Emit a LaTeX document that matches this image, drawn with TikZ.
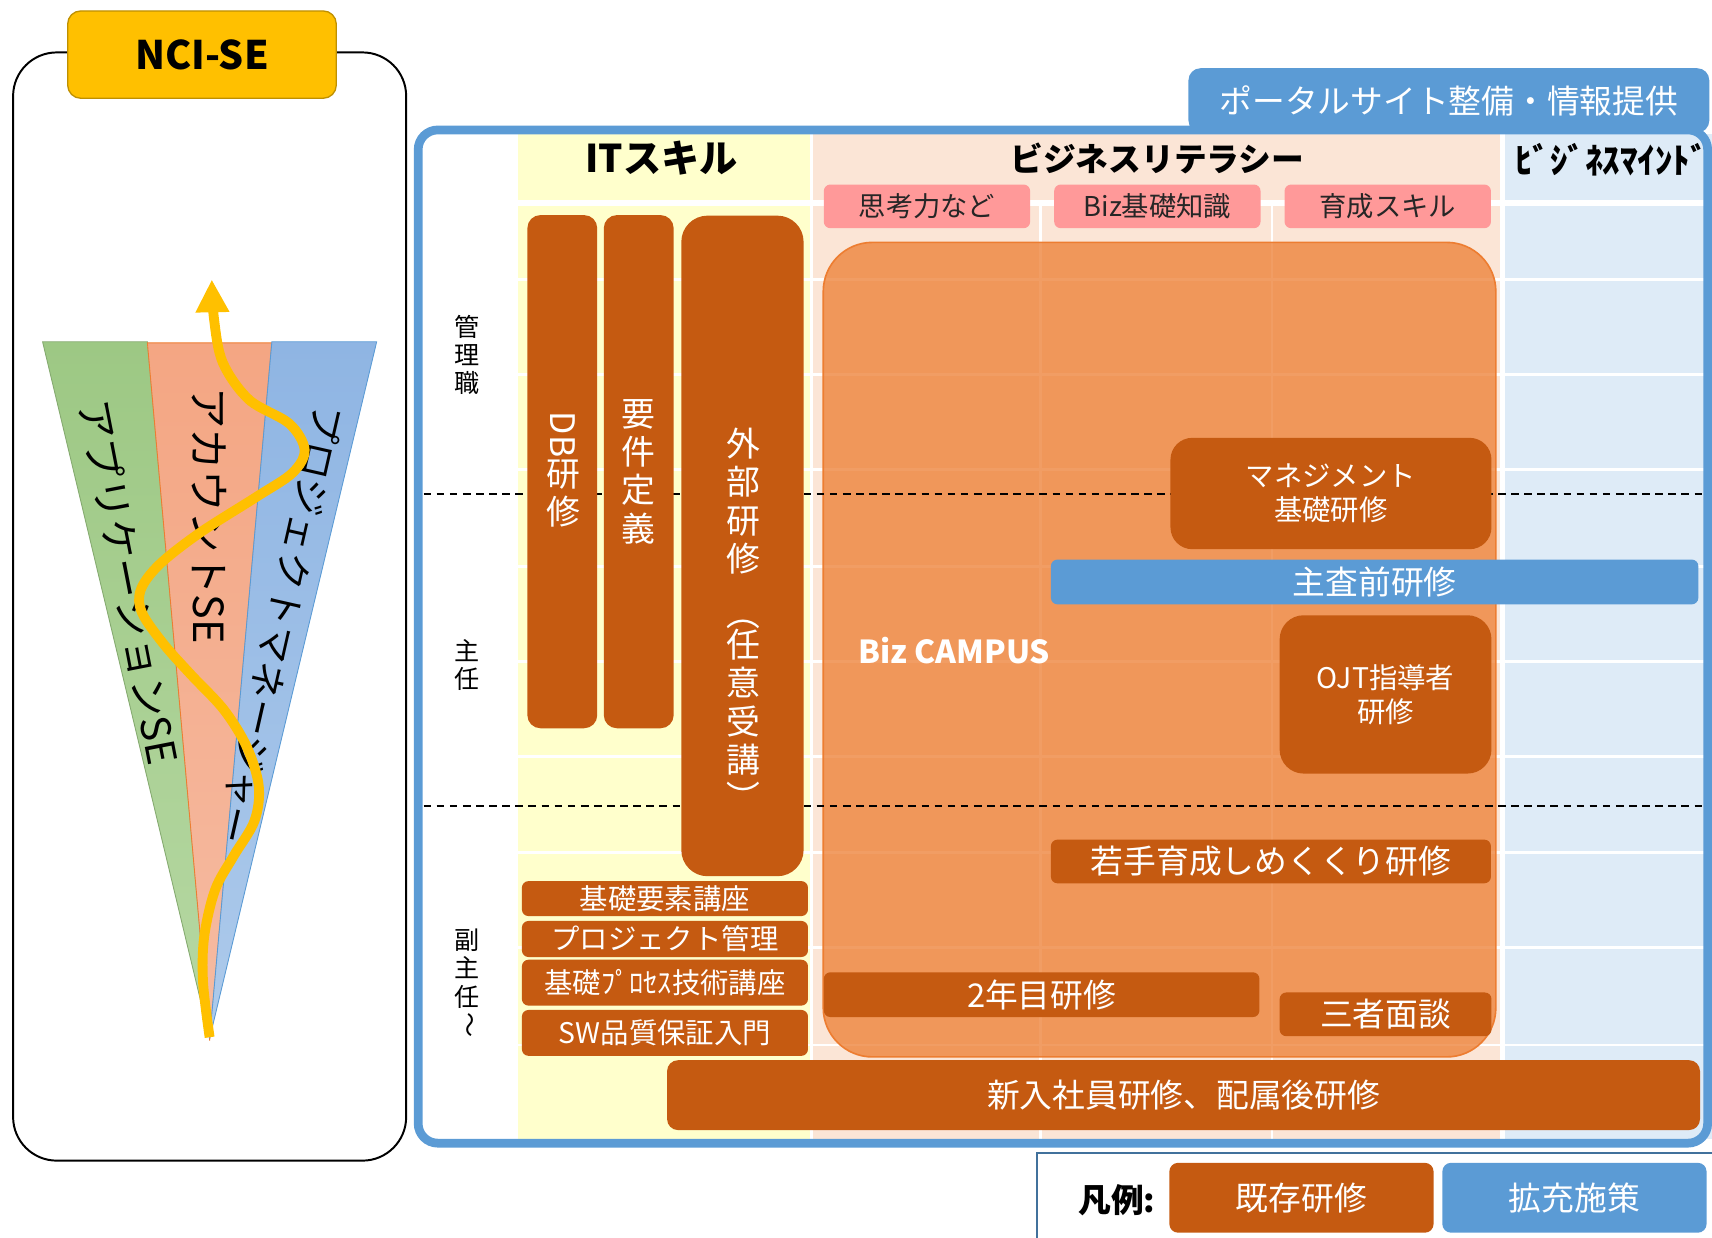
\documentclass[tikz,border=0pt]{standalone}
\usepackage{fontspec}
\setmainfont{Noto Sans CJK JP}
\usepackage{graphicx}
\usetikzlibrary{arrows.meta}

\definecolor{kizon}{HTML}{C55A11}
\definecolor{kakuju}{HTML}{5B9BD5}
\definecolor{campus}{HTML}{ED7D31}
\definecolor{itcol}{HTML}{FFFFCC}
\definecolor{bizcol}{HTML}{FBE5D6}
\definecolor{mindcol}{HTML}{DEEBF7}
\definecolor{pinkhead}{HTML}{FF9999}
\definecolor{gold}{HTML}{FFC000}
\definecolor{golddark}{HTML}{BF9000}
\definecolor{legendline}{HTML}{41719C}
\definecolor{appgreen}{HTML}{9DC884}
\definecolor{appgreenlt}{HTML}{B6D8A3}
\definecolor{accorange}{HTML}{F4A683}
\definecolor{accorangelt}{HTML}{F5BBA2}
\definecolor{pmblue}{HTML}{8FB5E3}
\definecolor{pmbluelt}{HTML}{ADCAEB}

\newcommand{\fsz}[2]{\fontsize{#1}{#2}\selectfont}

\tikzset{
	kizonbox/.style={fill=kizon, text=white, inner sep=0pt, rounded corners=6pt, align=center},
	kakujubox/.style={fill=kakuju, text=white, inner sep=0pt, rounded corners=6pt, align=center},
	headbox/.style={fill=pinkhead, text=black!85, inner sep=0pt, rounded corners=6pt, minimum width=189pt, minimum height=40pt, font=\fsz{25}{30}},
	tatetext/.style={align=center, inner sep=0pt},
	gridline/.style={white, line width=2.5pt},
	levelline/.style={line width=1.8pt, dash pattern=on 7pt off 5pt},
}

\begin{document}
\begin{tikzpicture}[x=1pt, y=-1pt]
			\useasboundingbox (0,0) rectangle (1568,1133);
			
			\draw[line width=1.8pt, rounded corners=40pt] (12,48) rectangle (372,1063);
			\node[fill=gold, draw=golddark, line width=1.2pt, rounded corners=12pt, minimum width=246pt, minimum height=80pt, inner sep=0pt, font=\fsz{36}{40}\bfseries] (nci) at (185,50) {NCI-SE};
			
			\shadedraw[top color=appgreen, bottom color=appgreenlt, draw=appgreen!85!black, line width=0.8pt] (39,313) -- (135,313) -- (192,951) -- cycle;
			\shadedraw[top color=accorange, bottom color=accorangelt, draw=campus, line width=0.8pt] (135,314) -- (249,314) -- (192,953) -- cycle;
			\shadedraw[top color=pmblue, bottom color=pmbluelt, draw=kakuju, line width=0.8pt] (249,313) -- (345,313) -- (192,951) -- cycle;
			
			\node[rotate=-79, font=\fsz{37}{40}] (appse) at (118,533) {アプリケーションSE};
			\node[rotate=-90, font=\fsz{38}{40}] (accse) at (192,472) {アカウントSE};
			\node[rotate=-102.8, font=\fsz{34.5}{40}] (pmtext) at (257,572) {プロジェクトマネージャー};
			
			\draw[gold, line width=9pt, -{Triangle[width=29pt, length=30pt]}] plot[smooth, tension=0.55] coordinates {(192,950) (186,900) (187,858) (197,815) (214,784) (233,752) (237,720) (226,684) (205,650) (175,618) (150,590) (130,561) (129,540) (146,517) (183,488) (235,455) (268,433) (279,412) (265,388) (228,366) (204,332) (196,292) (194,256)};
			
			\fill[itcol] (474,123) rectangle (743,1043);
			\fill[bizcol] (743,123) rectangle (1376,1043);
			\fill[mindcol] (1376,123) rectangle (1568,1043);
			\foreach \y in {256,343,430,519,606,693,781,868,957}
				\draw[gridline] (474,\y) -- (1568,\y);
			\foreach \x in {953,1165}
				\draw[gridline] (\x,186) -- (\x,1043);
			\draw[gridline] (743,123) -- (743,1043);
			\draw[white, line width=4pt] (1376,123) -- (1376,1043);
			\draw[white, line width=6pt] (474,186) -- (1568,186);
			
			\node[font=\fsz{35}{40}\bfseries] (itskill) at (606,145) {ITスキル};
			\node[font=\fsz{30}{36}\bfseries] (bizlit) at (1060,145) {ビジネスリテラシー};
			\node[font=\fsz{32}{36}\bfseries] (bizmind) at (1476,146) {ﾋﾞｼﾞﾈｽﾏｲﾝﾄﾞ};
			\node[headbox] (shikou) at (849,189) {思考力など};
			\node[headbox] (bizkiso) at (1060,189) {Biz基礎知識};
			\node[headbox] (ikusei) at (1271,189) {育成スキル};
			
			\draw[campus, fill=campus, fill opacity=0.75, line width=1.5pt, rounded corners=45pt] (754,222) rectangle (1370,968);
			\node[text=white, font=\fsz{29}{34}\bfseries] (bizcampus) at (874,596) {Biz CAMPUS};
			
			\draw[levelline] (388,452) -- (1568,452);
			\draw[levelline] (388,738) -- (1568,738);
			
			\node[tatetext, font=\fsz{23}{26}] (kanri) at (428,325) {管\\理\\職};
			\node[tatetext, font=\fsz{23}{26}] (shunin) at (428,609) {主\\任};
			\node[tatetext, font=\fsz{23}{26}] (fukushunin) at (428,887) {副\\主\\任};
			\node[rotate=-90, font=\fsz{23}{26}] (kara) at (428,939) {～};
			
			\node[kizonbox, rounded corners=12pt, minimum width=64pt, minimum height=470pt] (db) at (515,432) {};
			\node[rotate=-90, text=white, font=\fsz{31}{35}] (dbtext) at (516,398) {DB};
			\node[tatetext, text=white, font=\fsz{31}{34}] (dbkenshu) at (516,452) {研\\修};
			\node[kizonbox, rounded corners=12pt, minimum width=64pt, minimum height=470pt, font=\fsz{31}{35}] (yoken) at (585,432) {要\\件\\定\\義};
			\node[kizonbox, rounded corners=24pt, minimum width=112pt, minimum height=605pt] (gaibu) at (680,500) {};
			\node[tatetext, text=white, font=\fsz{31}{35}] (gaibutext) at (681,459) {外\\部\\研\\修};
			\node[tatetext, text=white, font=\fsz{31}{35}] (nini) at (681,643) {任\\意\\受\\講};
			\node[rotate=-90, text=white, font=\fsz{31}{35}] (kakko1) at (681,562) {（};
			\node[rotate=-90, text=white, font=\fsz{31}{35}] (kakko2) at (681,730) {）};
			
			\node[kizonbox, minimum width=262pt, minimum height=32pt, font=\fsz{26}{30}] (kiso) at (609,823) {基礎要素講座};
			\node[kizonbox, minimum width=262pt, minimum height=33pt, font=\fsz{26}{30}] (pmkanri) at (609,860) {プロジェクト管理};
			\node[kizonbox, minimum width=262pt, minimum height=42pt, font=\fsz{26}{30}] (process) at (609,900) {基礎ﾌﾟﾛｾｽ技術講座};
			\node[kizonbox, minimum width=262pt, minimum height=42pt, font=\fsz{26}{30}] (sw) at (609,946) {SW品質保証入門};
			
			\node[kizonbox, rounded corners=20pt, minimum width=294pt, minimum height=102pt, font=\fsz{26}{31}] (mgmt) at (1219,452) {マネジメント\\基礎研修};
			\node[kakujubox, minimum width=593pt, minimum height=41pt, font=\fsz{30}{34}] (shusa) at (1259,533) {主査前研修};
			\node[kizonbox, rounded corners=22pt, minimum width=194pt, minimum height=145pt, font=\fsz{26}{31}] (ojt) at (1269,636) {OJT指導者\\研修};
			\node[kizonbox, minimum width=403pt, minimum height=40pt, font=\fsz{30}{34}] (wakate) at (1164,789) {若手育成しめくくり研修};
			\node[kizonbox, minimum width=399pt, minimum height=41pt, font=\fsz{30}{34}] (ninen) at (954,911) {2年目研修};
			\node[kizonbox, minimum width=194pt, minimum height=40pt, font=\fsz{30}{34}] (sansha) at (1269,929) {三者面談};
			\node[kizonbox, rounded corners=10pt, minimum width=946pt, minimum height=64pt, font=\fsz{30}{34}] (shinnyu) at (1084,1003) {新入社員研修、配属後研修};
			
			\draw[kakuju, line width=8pt, rounded corners=18pt] (383,119) rectangle (1564,1047);
			\node[kakujubox, rounded corners=11pt, minimum width=477pt, minimum height=59pt, font=\fsz{30}{34}] (portal) at (1327,92) {ポータルサイト整備・情報提供};
			
			\draw[legendline, line width=2pt] (950,1145) -- (950,1056) -- (1580,1056);
			\node[font=\fsz{30}{34}\bfseries] (hanrei) at (1023,1099) {凡例:};
			\node[kizonbox, rounded corners=8pt, minimum width=242pt, minimum height=64pt, font=\fsz{30}{34}] (legkizon) at (1192,1097) {既存研修};
			\node[kakujubox, rounded corners=8pt, minimum width=242pt, minimum height=64pt, font=\fsz{30}{34}] (legkakuju) at (1442,1097) {拡充施策};
		\end{tikzpicture}
\end{document}
